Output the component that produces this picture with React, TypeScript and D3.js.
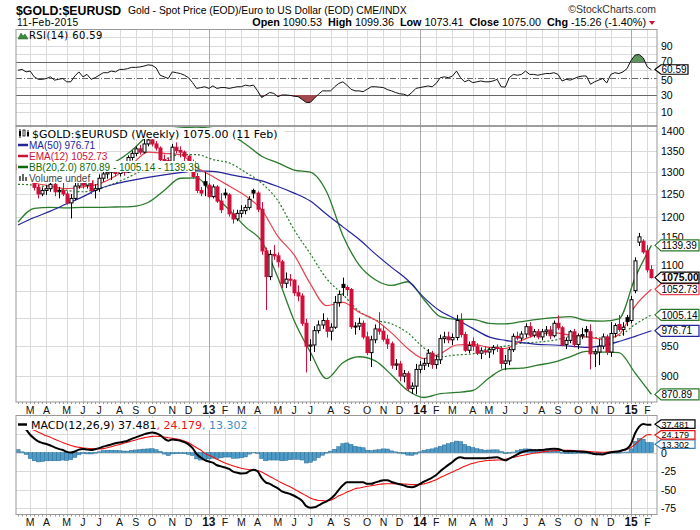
import React from 'react';
import * as d3 from 'd3';

// weekly bars, Monday of each week, first one is 13-Feb-2012
const firstWeek = new Date(2012, 1, 13);

// [open, high, low, close] in EUR
const bars2012 = [
  [1318, 1330, 1295, 1305], [1305, 1325, 1298, 1318], [1318, 1335, 1290, 1300], [1300, 1312, 1280, 1290],
  [1290, 1298, 1258, 1265], [1265, 1272, 1240, 1250], [1250, 1265, 1245, 1258], [1258, 1270, 1248, 1262],
  [1262, 1280, 1255, 1272], [1272, 1276, 1245, 1255], [1255, 1266, 1240, 1258], [1258, 1275, 1245, 1250],
  [1250, 1256, 1226, 1230], [1230, 1250, 1196, 1240], [1240, 1275, 1236, 1268], [1268, 1305, 1262, 1290],
  [1290, 1295, 1262, 1270], [1270, 1290, 1262, 1280], [1280, 1285, 1250, 1258], [1258, 1272, 1240, 1262],
  [1262, 1295, 1255, 1286], [1286, 1302, 1278, 1296], [1296, 1308, 1285, 1300], [1300, 1318, 1282, 1310],
  [1310, 1318, 1290, 1297], [1297, 1312, 1290, 1305], [1305, 1310, 1292, 1300], [1300, 1340, 1298, 1335],
  [1335, 1352, 1328, 1345], [1345, 1362, 1338, 1356], [1356, 1366, 1342, 1348], [1348, 1385, 1345, 1368],
  [1368, 1392, 1362, 1378], [1378, 1388, 1362, 1368], [1368, 1375, 1352, 1358], [1358, 1362, 1326, 1330],
  [1330, 1342, 1318, 1328], [1328, 1335, 1305, 1312], [1312, 1368, 1308, 1360], [1360, 1372, 1345, 1352],
  [1352, 1362, 1335, 1348], [1348, 1352, 1322, 1338], [1338, 1342, 1315, 1325], [1325, 1330, 1285, 1290],
  [1290, 1298, 1252, 1258], [1258, 1266, 1245, 1252], [1278, 1300, 1245, 1270],
];
const bars2013 = [
  [1270, 1275, 1240, 1244], [1244, 1272, 1240, 1266], [1266, 1270, 1230, 1234], [1234, 1252, 1208, 1215],
  [1252, 1262, 1240, 1248], [1248, 1252, 1200, 1206], [1206, 1215, 1185, 1195], [1195, 1215, 1190, 1207],
  [1207, 1225, 1198, 1213], [1213, 1226, 1205, 1220], [1220, 1245, 1215, 1238], [1258, 1262, 1240, 1252],
  [1252, 1256, 1210, 1216], [1216, 1232, 1120, 1128], [1128, 1135, 1014, 1077], [1077, 1130, 1070, 1121],
  [1121, 1140, 1110, 1118], [1118, 1125, 1095, 1106], [1106, 1110, 1055, 1064], [1064, 1085, 1055, 1072],
  [1072, 1082, 1058, 1070], [1070, 1072, 1040, 1046], [1046, 1060, 1030, 1040], [1040, 1045, 985, 990],
  [990, 998, 906, 950], [950, 962, 925, 952], [952, 985, 940, 977], [977, 995, 972, 987],
  [987, 1008, 980, 995], [995, 1000, 965, 976], [976, 990, 960, 983], [983, 1040, 980, 1028],
  [1028, 1050, 1020, 1043], [1062, 1075, 1040, 1056], [1056, 1060, 1040, 1052], [1052, 1055, 980, 984],
  [984, 992, 970, 985], [985, 1000, 978, 990], [990, 995, 962, 966], [966, 975, 935, 939],
  [939, 968, 915, 961], [961, 988, 955, 980], [980, 1010, 970, 976], [976, 985, 958, 962],
  [962, 970, 945, 954], [954, 958, 912, 918], [918, 928, 910, 920], [920, 925, 892, 900],
  [900, 910, 890, 904], [904, 908, 876, 880], [880, 890, 872, 884], [884, 920, 871, 911],
];
const bars2014 = [
  [911, 925, 905, 918], [918, 930, 910, 921], [921, 945, 915, 938], [938, 942, 912, 919],
  [919, 935, 912, 927], [927, 970, 920, 963], [963, 975, 955, 966], [966, 975, 955, 961],
  [961, 972, 952, 965], [965, 1005, 960, 995], [995, 1008, 965, 970], [970, 975, 940, 943],
  [943, 958, 938, 951], [958, 965, 942, 950], [950, 955, 935, 938], [938, 948, 928, 942],
  [942, 950, 935, 940], [940, 948, 930, 944], [944, 952, 936, 948], [948, 953, 940, 946],
  [946, 950, 912, 921], [921, 935, 910, 925], [925, 948, 918, 944], [944, 972, 940, 967],
  [967, 975, 960, 964], [964, 976, 958, 971], [971, 990, 965, 984], [984, 992, 965, 969],
  [969, 980, 965, 975], [975, 980, 962, 966], [966, 980, 960, 975], [975, 985, 968, 978],
  [978, 985, 962, 968], [968, 995, 965, 990], [990, 1004, 978, 982], [982, 985, 950, 953],
  [953, 965, 945, 960], [960, 978, 955, 975], [975, 980, 948, 953], [953, 972, 945, 968],
  [968, 982, 962, 970], [979, 985, 965, 975], [975, 988, 911, 937], [937, 945, 915, 940],
  [940, 962, 918, 950], [950, 972, 945, 966], [966, 970, 935, 940], [940, 992, 932, 972],
  [972, 990, 965, 986], [988, 1005, 975, 979], [979, 992, 968, 983], [1000, 1005, 985, 993],
];
const bars2015 = [
  [995, 1040, 990, 1033], [1050, 1115, 1045, 1108], [1146, 1165, 1138, 1157], [1148, 1152, 1122, 1126],
  [1128, 1140, 1085, 1090.26], [1090.53, 1099.36, 1073.41, 1075.0],
];

const rsi14 = [
  60, 61, 58, 59, 52, 49, 49, 50, 52, 48, 49, 50, 46, 46, 53, 58, 52, 55, 49, 51,
  54, 57, 57, 59, 58, 61, 61, 62, 63.5, 63.5, 64, 65, 66.5, 66, 63, 54, 52, 50, 58, 57,
  56, 54, 51, 45, 38, 39, 40, 38, 41, 38, 39, 39, 38, 39, 40, 40, 42, 41, 42, 35,
  27, 30, 33, 32, 28, 30, 30, 29.5, 28.5, 28, 24.5, 21, 21, 26, 31, 35, 35, 35, 40, 44,
  46, 42, 37, 35, 35, 34, 37, 40, 40, 39.5, 39, 36.5, 35, 33, 31.5, 31, 29, 33, 38, 39,
  40, 41, 40, 44, 51, 52, 51, 53, 59, 51, 46, 48, 45, 46, 47, 46, 46, 47, 49, 40,
  39.5, 51, 55, 54, 55, 59, 55, 55, 54, 55, 56, 56, 57, 55, 47, 49, 48, 50, 52, 53,
  53, 43, 46, 48, 50, 44.5, 55, 57, 56, 58, 62, 72, 78.5, 79, 75, 64, 60.59,
];

const macdLine = [
  40, 36, 31, 24, 19, 15, 13, 11.5, 9.5, 7, 5, 3.5, 1, 0, 1.5, 4, 5, 4, 3.5, 4.5,
  6, 8, 9.5, 11, 12.5, 13.5, 14.6, 16, 18.5, 20.5, 22.5, 24.5, 26, 27, 26, 23.6, 19, 16, 17.5, 17,
  16, 14, 11, 6, -2, -6.5, -10, -12, -13.5, -17, -18.5, -20, -22, -25.6, -27, -28, -27.8, -25, -23, -25,
  -34, -40, -42, -45, -48, -52, -54, -55.6, -58, -61, -65, -72, -74, -73.5, -71, -68, -65.5, -62, -57, -50,
  -44, -40, -40, -40, -40, -40, -42, -42, -40, -38.5, -37, -37, -39.5, -41, -42.5, -44, -46, -46.6, -45, -42,
  -39, -36.4, -33.5, -30, -25, -20.7, -16.5, -12.6, -8, -6.3, -7.5, -7.7, -7.7, -7.7, -7.7, -7.7, -7, -6.5, -6.3, -8.5,
  -10.4, -8, -5.5, -2.5, 0.5, 2, 3, 3.2, 3.3, 3.5, 4.3, 5, 5.3, 4.8, 3, 1.7, 1.7, 1.7, 1.5, 1.2,
  0.8, -0.5, -1.9, -2.3, -2.5, -0.8, 0.5, 1.2, 1.7, 3.5, 5.3, 12, 26, 35, 38.4, 37.5, 37.481,
];
const macdSignal = [
  36, 35, 33.5, 32, 30, 27.5, 25, 22.5, 20.5, 18, 16, 13.5, 11.5, 9.5, 8, 7, 6.2, 5.8, 5.3, 5,
  4.9, 5.3, 6.5, 7.8, 9.5, 11, 12.5, 14, 15.5, 17, 18.5, 19.8, 21, 21.8, 22, 21.8, 21, 20, 19.2, 18.5,
  17.2, 15.5, 13.3, 10, 6.5, 3.5, -1, -3.5, -6, -9, -11.5, -14, -16, -18, -19.5, -21, -22, -23, -23.5, -24,
  -26, -29, -32, -35, -38, -41, -43.5, -46, -49, -52, -55, -58, -61, -63, -64.3, -64.5, -65, -64, -61.5, -58,
  -56, -53, -51, -48.5, -47.5, -46.5, -45.2, -44.5, -43.5, -42.5, -42, -41.8, -41.8, -42, -42, -42.3, -42.6, -43, -43, -43,
  -42, -40.5, -38.5, -36.4, -33.5, -31, -28.5, -26, -23.5, -21, -18.5, -16.2, -14.5, -13, -12, -10.9, -10.5, -10.2, -10, -10,
  -9, -7.5, -6.3, -5.3, -4, -3, -1.8, -0.8, -0.2, 0.8, 1.5, 2.2, 2.6, 2.9, 3, 3, 3, 2.6, 2.2, 2,
  1.7, 1.3, 0.9, 0.6, 0.4, 0.6, 0.9, 1.2, 1.7, 2.8, 4.5, 7, 11, 16, 20.5, 24, 24.179,
];

// overlays read every 4th week
const ma50Every4 = [
  1182, 1198, 1212, 1228, 1244, 1262, 1273, 1281, 1288, 1294, 1299, 1303, 1302, 1295, 1288, 1280,
  1267, 1252, 1234, 1205, 1178, 1152, 1122, 1095, 1070, 1037, 1012, 997, 981, 966, 960, 956,
  953, 952, 950, 948, 951, 958, 967, 976.71,
];
const ema12Every4 = [
  1285, 1275, 1268, 1262, 1266, 1273, 1291, 1318, 1348, 1345, 1342, 1311, 1290, 1268, 1246, 1215,
  1158, 1120, 1063, 1022, 1028, 1010, 996, 973, 946, 929, 937, 952, 953, 948, 946, 960,
  970, 973, 969, 966, 962, 970, 1021, 1052.73,
];
const bbUpperEvery4 = [
  1345, 1340, 1320, 1300, 1305, 1312, 1325, 1352, 1388, 1402, 1408, 1410, 1406, 1393, 1368, 1338,
  1322, 1305, 1300, 1255, 1160, 1100, 1071, 1060, 1067, 1033, 1002, 997, 997, 990, 989, 993,
  997, 1000, 1002, 995, 994, 998, 1075, 1139.39,
];
const bbMidEvery4 = [
  1272, 1270, 1265, 1258, 1255, 1262, 1275, 1292, 1312, 1330, 1342, 1342, 1330, 1322, 1300, 1275,
  1235, 1172, 1122, 1073, 1043, 1012, 996, 989, 973, 947, 932, 935, 937, 946, 950, 955,
  957, 960, 966, 966, 964, 968, 988, 1005.14,
];
const bbLowerEvery4 = [
  1188, 1218, 1220, 1219, 1220, 1220, 1221, 1222, 1231, 1258, 1286, 1287, 1250, 1215, 1178, 1148,
  1075, 995, 940, 896, 922, 932, 925, 902, 877, 866, 872, 874, 877, 897, 912, 913,
  918, 923, 932, 941, 940, 939, 905, 870.89,
];

const priceGrid = [900, 950, 1000, 1050, 1100, 1150, 1200, 1250, 1300, 1350, 1400];
// 1000 and 1050 sit under the value tags, so they get no label
const priceLabels = [900, 950, 1100, 1150, 1200, 1250, 1300, 1350, 1400];
const rsiGrid = [10, 20, 40, 60, 80, 90, 100];
const rsiTicks = [90, 70, 50, 30, 10];
const macdTicks = [25, 0, -25, -50, -75];
const macdLabels = [0, -25, -50, -75];
const monthLetters = ['J', 'F', 'M', 'A', 'M', 'J', 'J', 'A', 'S', 'O', 'N', 'D'];

const RED = '#d0103a';
const EMA_RED = '#e8414f';
const NAVY = '#23239c';
const GREEN = '#2a7a2a';
const HIST = '#4d9bc8';
const SANS = 'Liberation Sans, Arial, sans-serif';
const VERD = 'DejaVu Sans, Verdana, sans-serif';

const L = 16;
const R = 657;

const Tag = ({ y, text, color, bold = false, w = 44, h = 11, fs = 10 }: any) => {
  const x0 = 655;
  const pts = `${x0},${y} ${x0 + 6},${y - h / 2} ${x0 + w},${y - h / 2} ${x0 + w},${y + h / 2} ${x0 + 6},${y + h / 2}`;
  return (
    <g>
      <polygon points={pts} fill="#fff" stroke={color} strokeWidth={1.2} />
      <text x={x0 + 6.5} y={y + fs * 0.37} fontFamily={SANS} fontSize={bold ? fs + 0.3 : fs} fontWeight={bold ? 'bold' : 'normal'} fill="#000">{text}</text>
    </g>
  );
};

const App = () => {
  const bars = [...bars2012, ...bars2013, ...bars2014, ...bars2015];
  const n = bars.length;
  const dates = d3.range(n).map((i) => d3.timeDay.offset(firstWeek, i * 7));
  const sampled = d3.range(0, n, 4).map((i) => dates[i]);

  const x = d3.scaleTime().domain([dates[0], dates[n - 1]]).range([18, 651.4]);
  const yP = d3.scaleLog().domain([859, 1413]).range([402, 126]);
  const yR = d3.scaleLinear().domain([30, 70]).range([95, 62]);
  const yM = d3.scaleLinear().domain([-25, 0]).range([471.2, 452.6]);

  const monthStarts = dates
    .map((d, i) => ({ d, i }))
    .filter(({ d, i }) => i > 0 && d.getMonth() !== dates[i - 1].getMonth());

  const overlay = (vals: number[]) =>
    d3.line<number>().x((_, k) => x(sampled[k])).y((v) => yP(v)).curve(d3.curveMonotoneX)(vals) as string;

  const rsiLine = d3.line<number>().x((_, i) => x(dates[i])).y((v) => yR(v))(rsi14) as string;
  const rsiHigh = d3.area<number>().x((_, i) => x(dates[i])).y0(yR(70)).y1((v) => yR(v))(rsi14) as string;
  const rsiLow = d3.area<number>().x((_, i) => x(dates[i])).y0(yR(30)).y1((v) => yR(v))(rsi14) as string;

  const macdPath = d3.line<number>().x((_, i) => x(dates[i])).y((v) => yM(v)).curve(d3.curveMonotoneX)(macdLine) as string;
  const sigPath = d3.line<number>().x((_, i) => x(dates[i])).y((v) => yM(v)).curve(d3.curveMonotoneX)(macdSignal) as string;

  const vGrid = (top: number, bottom: number) =>
    monthStarts.map(({ d, i }) => (
      <line key={`g${top}-${i}`} x1={Math.round(x(d)) + 0.5} x2={Math.round(x(d)) + 0.5} y1={top} y2={bottom}
        stroke={d.getMonth() === 0 ? '#a8a8a8' : '#dadada'} strokeWidth={1} />
    ));

  const monthLabels = (yy: number) =>
    monthStarts.map(({ d, i }) => (
      <text key={`m${yy}-${i}`} x={x(d)} y={yy} textAnchor="middle" fontFamily={SANS}
        fontSize={d.getMonth() === 0 ? 12 : 10.5} fontWeight={d.getMonth() === 0 ? 'bold' : 'normal'} fill="#111">
        {d.getMonth() === 0 ? String(d.getFullYear()).slice(2) : monthLetters[d.getMonth()]}
      </text>
    ));

  const axisTicks = (yy: number) =>
    dates.map((d, i) => (
      <line key={`t${yy}-${i}`} x1={Math.round(x(d)) + 0.5} x2={Math.round(x(d)) + 0.5} y1={yy} y2={yy + 2} stroke="#999" />
    ));

  return (
    <div>
      <style>{'body{margin:0;background:#fff}'}</style>
      <svg width={700} height={530} style={{ display: 'block' }}>
        <defs>
          <clipPath id="cpR"><rect x={L} y={30} width={R - L} height={96} /></clipPath>
          <clipPath id="cpP"><rect x={L} y={126} width={R - L} height={276} /></clipPath>
          <clipPath id="cpM"><rect x={L} y={415.5} width={R - L} height={99} /></clipPath>
          <clipPath id="cpHi"><rect x={L} y={30} width={R - L} height={yR(70) - 30} /></clipPath>
          <clipPath id="cpLo"><rect x={L} y={yR(30)} width={R - L} height={126 - yR(30)} /></clipPath>
        </defs>
        <rect width={700} height={530} fill="#fff" />

        {/* header */}
        <text x={16} y={15} fontFamily={SANS} fontSize={12.3} fontWeight="bold">$GOLD:$EURUSD</text>
        <text x={128} y={14} fontFamily={SANS} fontSize={10.3}>Gold - Spot Price (EOD)/Euro to US Dollar (EOD) CME/INDX</text>
        <text x={656} y={13} textAnchor="end" fontFamily={SANS} fontSize={10.5} fill="#333">©StockCharts.com</text>
        <text x={17} y={26} fontFamily={SANS} fontSize={10.3} letterSpacing={0.3}>11-Feb-2015</text>
        <text x={646} y={26} textAnchor="end" fontFamily={SANS} fontSize={10.8} style={{ whiteSpace: 'pre' }}>
          <tspan fontWeight="bold">Open</tspan> 1090.53  <tspan fontWeight="bold">High</tspan> 1099.36  <tspan fontWeight="bold">Low</tspan> 1073.41  <tspan fontWeight="bold">Close</tspan> 1075.00  <tspan fontWeight="bold">Chg</tspan> -15.26 (-1.40%)
        </text>
        <path d="M649,21 L655,21 L652,25 Z" fill={RED} />

        {/* RSI panel */}
        {rsiGrid.map((v) => (
          <line key={`rg${v}`} x1={L} x2={R} y1={Math.round(yR(v)) + 0.5} y2={Math.round(yR(v)) + 0.5} stroke="#dadada" />
        ))}
        {vGrid(30, 126)}
        <line x1={L} x2={R} y1={62.5} y2={62.5} stroke="#666" />
        <line x1={L} x2={R} y1={95.5} y2={95.5} stroke="#666" />
        <line x1={L} x2={R} y1={78.5} y2={78.5} stroke="#666" strokeDasharray="6,2,1,2" />
        <g clipPath="url(#cpR)">
          <path d={rsiHigh} fill="#5e945e" clipPath="url(#cpHi)" />
          <path d={rsiLow} fill="#a0484e" clipPath="url(#cpLo)" />
          <path d={rsiLine} fill="none" stroke="#111" strokeWidth={1} />
        </g>
        <rect x={L} y={29.5} width={R - L} height={96.5} fill="none" stroke="#999" />
        <path d="M18,39 L21,33 L23,36 L25,34 L28,39 Z" fill="#3d8c3d" stroke="#1d5c1d" strokeWidth={0.5} />
        <text x={29} y={39} fontFamily={VERD} fontSize={10} letterSpacing={0.4}>RSI(14) 60.59</text>
        {rsiTicks.map((v) => (
          <text key={`rt${v}`} x={661} y={yR(v) + (v === 70 ? 2.5 : v === 50 ? 5 : 4)} fontFamily={SANS} fontSize={10.5}>{v}</text>
        ))}
        <Tag y={69.5} text="60.59" color="#000" w={33} h={9.5} />

        {/* price panel */}
        {priceGrid.map((v) => (
          <line key={`pg${v}`} x1={L} x2={R} y1={Math.round(yP(v)) + 0.5} y2={Math.round(yP(v)) + 0.5} stroke="#dadada" />
        ))}
        {vGrid(126, 402)}
        <g clipPath="url(#cpP)">
          <path d={overlay(bbUpperEvery4)} fill="none" stroke={GREEN} strokeWidth={1.3} />
          <path d={overlay(bbLowerEvery4)} fill="none" stroke={GREEN} strokeWidth={1.3} />
          <path d={overlay(bbMidEvery4)} fill="none" stroke={GREEN} strokeWidth={1.2} strokeDasharray="2,2" />
          <path d={overlay(ma50Every4)} fill="none" stroke={NAVY} strokeWidth={1.2} />
          <path d={overlay(ema12Every4)} fill="none" stroke={EMA_RED} strokeWidth={1.2} />
          {bars.map(([o, h, l, c], i) => {
            const prev = i > 0 ? bars[i - 1][3] : o;
            const col = c < prev ? RED : '#000';
            const cx = Math.round(x(dates[i])) + 0.5;
            const top = yP(Math.max(o, c));
            const bh = Math.max(1, yP(Math.min(o, c)) - top);
            const hollow = c >= o;
            return (
              <g key={`c${i}`}>
                <line x1={cx} x2={cx} y1={yP(h)} y2={yP(l)} stroke={col} strokeWidth={1} />
                <rect x={cx - 1.5} y={top} width={3} height={bh} fill={hollow ? '#fff' : col} stroke={col} strokeWidth={1} />
              </g>
            );
          })}
        </g>
        <rect x={L} y={126} width={R - L} height={276} fill="none" stroke="#999" />
        <line x1={L} x2={R} y1={126} y2={126} stroke="#888" />

        {/* legend */}
        <rect x={17} y={128} width={268} height={11} fill="#fff" />
        <rect x={17} y={139} width={78} height={11} fill="#fff" />
        <rect x={17} y={150} width={89} height={11} fill="#fff" />
        <rect x={17} y={161} width={178} height={11} fill="#fff" />
        <rect x={17} y={172} width={75} height={11} fill="#fff" />
        <g>
          <rect x={19} y={131} width={2} height={5} fill="#000" />
          <line x1={20} x2={20} y1={129} y2={138} stroke="#000" />
          <rect x={23} y={130} width={2} height={6} fill="#fff" stroke="#000" strokeWidth={0.8} />
          <rect x={27} y={132} width={2} height={4} fill="#000" />
          <line x1={28} x2={28} y1={130} y2={137} stroke="#000" />
        </g>
        <text x={32} y={137.5} fontFamily={VERD} fontSize={11}>$GOLD:$EURUSD (Weekly) 1075.00 (11 Feb)</text>
        <line x1={18} x2={28} y1={145} y2={145} stroke={NAVY} strokeWidth={2.5} />
        <text x={29} y={148.5} fontFamily={SANS} fontSize={10} fill={NAVY}>MA(50) 976.71</text>
        <line x1={18} x2={28} y1={156} y2={156} stroke={RED} strokeWidth={2.5} />
        <text x={29} y={159.5} fontFamily={SANS} fontSize={10} fill={RED}>EMA(12) 1052.73</text>
        <line x1={18} x2={28} y1={167} y2={167} stroke="#0a6a0a" strokeWidth={2.5} />
        <text x={29} y={170.5} fontFamily={SANS} fontSize={10} fill="#0a6a0a">BB(20,2.0) 870.89 - 1005.14 - 1139.39</text>
        <g fill="#666">
          <rect x={19} y={176} width={2} height={5} />
          <rect x={22} y={174} width={2} height={7} />
          <rect x={25} y={177} width={2} height={4} />
        </g>
        <text x={29} y={181.5} fontFamily={SANS} fontSize={10} fill="#444">Volume undef</text>

        {priceLabels.map((v) => (
          <text key={`pt${v}`} x={661} y={yP(v) + (v === 1150 ? 1 : 4)} fontFamily={SANS} fontSize={10.5}>{v}</text>
        ))}
        <Tag y={yP(1139.39)} text="1139.39" color={GREEN} />
        <Tag y={yP(1005.14)} text="1005.14" color={GREEN} />
        <Tag y={yP(976.71)} text="976.71" color={NAVY} />
        <Tag y={yP(870.89)} text="870.89" color={GREEN} />
        <Tag y={yP(1052.73)} text="1052.73" color={EMA_RED} />
        <Tag y={yP(1075)} text="1075.00" color="#000" bold />

        {axisTicks(402)}
        {monthLabels(414)}

        {/* MACD panel */}
        {macdTicks.map((v) => (
          <line key={`mg${v}`} x1={L} x2={R} y1={Math.round(yM(v)) + 0.5} y2={Math.round(yM(v)) + 0.5} stroke="#dadada" />
        ))}
        {vGrid(415.5, 514.5)}
        <g clipPath="url(#cpM)">
          {macdLine.map((v, i) => {
            const hv = v - macdSignal[i];
            const cx = x(dates[i]);
            const y0 = yM(0);
            const y1 = yM(hv);
            return (
              <rect key={`h${i}`} x={cx - 2} y={Math.min(y0, y1)} width={4.06} height={Math.max(0.5, Math.abs(y1 - y0))}
                fill={HIST} stroke="#2a6b93" strokeWidth={0.5} />
            );
          })}
          <path d={sigPath} fill="none" stroke="#f01010" strokeWidth={1.1} />
          <path d={macdPath} fill="none" stroke="#000" strokeWidth={2} />
        </g>
        <rect x={L} y={415.5} width={R - L} height={99} fill="none" stroke="#999" />
        <rect x={17} y={418} width={238} height={12} fill="#fff" />
        <line x1={18} x2={27} y1={424.5} y2={424.5} stroke="#000" strokeWidth={2.5} />
        <text x={31} y={428.5} fontFamily={VERD} fontSize={11}>
          <tspan>MACD(12,26,9) 37.481</tspan>
          <tspan fill="#f01010">, 24.179</tspan>
          <tspan fill="#3a8fc4">, 13.302</tspan>
        </text>
        {macdLabels.map((v) => (
          <text key={`mt${v}`} x={661} y={yM(v) + 4} fontFamily={SANS} fontSize={10.5}>{v}</text>
        ))}
        <Tag y={yM(13.302) + 1.5} text="13.302" color="#3a7fb0" w={40} h={8.5} fs={9} />
        <Tag y={yM(24.179) + 0.3} text="24.179" color="#f01010" w={40} h={8.5} fs={9} />
        <Tag y={yM(37.481) - 0.5} text="37.481" color="#000" w={40} h={8.5} fs={9} />

        {axisTicks(514.5)}
        {monthLabels(526)}
      </svg>
    </div>
  );
};

export default App;
